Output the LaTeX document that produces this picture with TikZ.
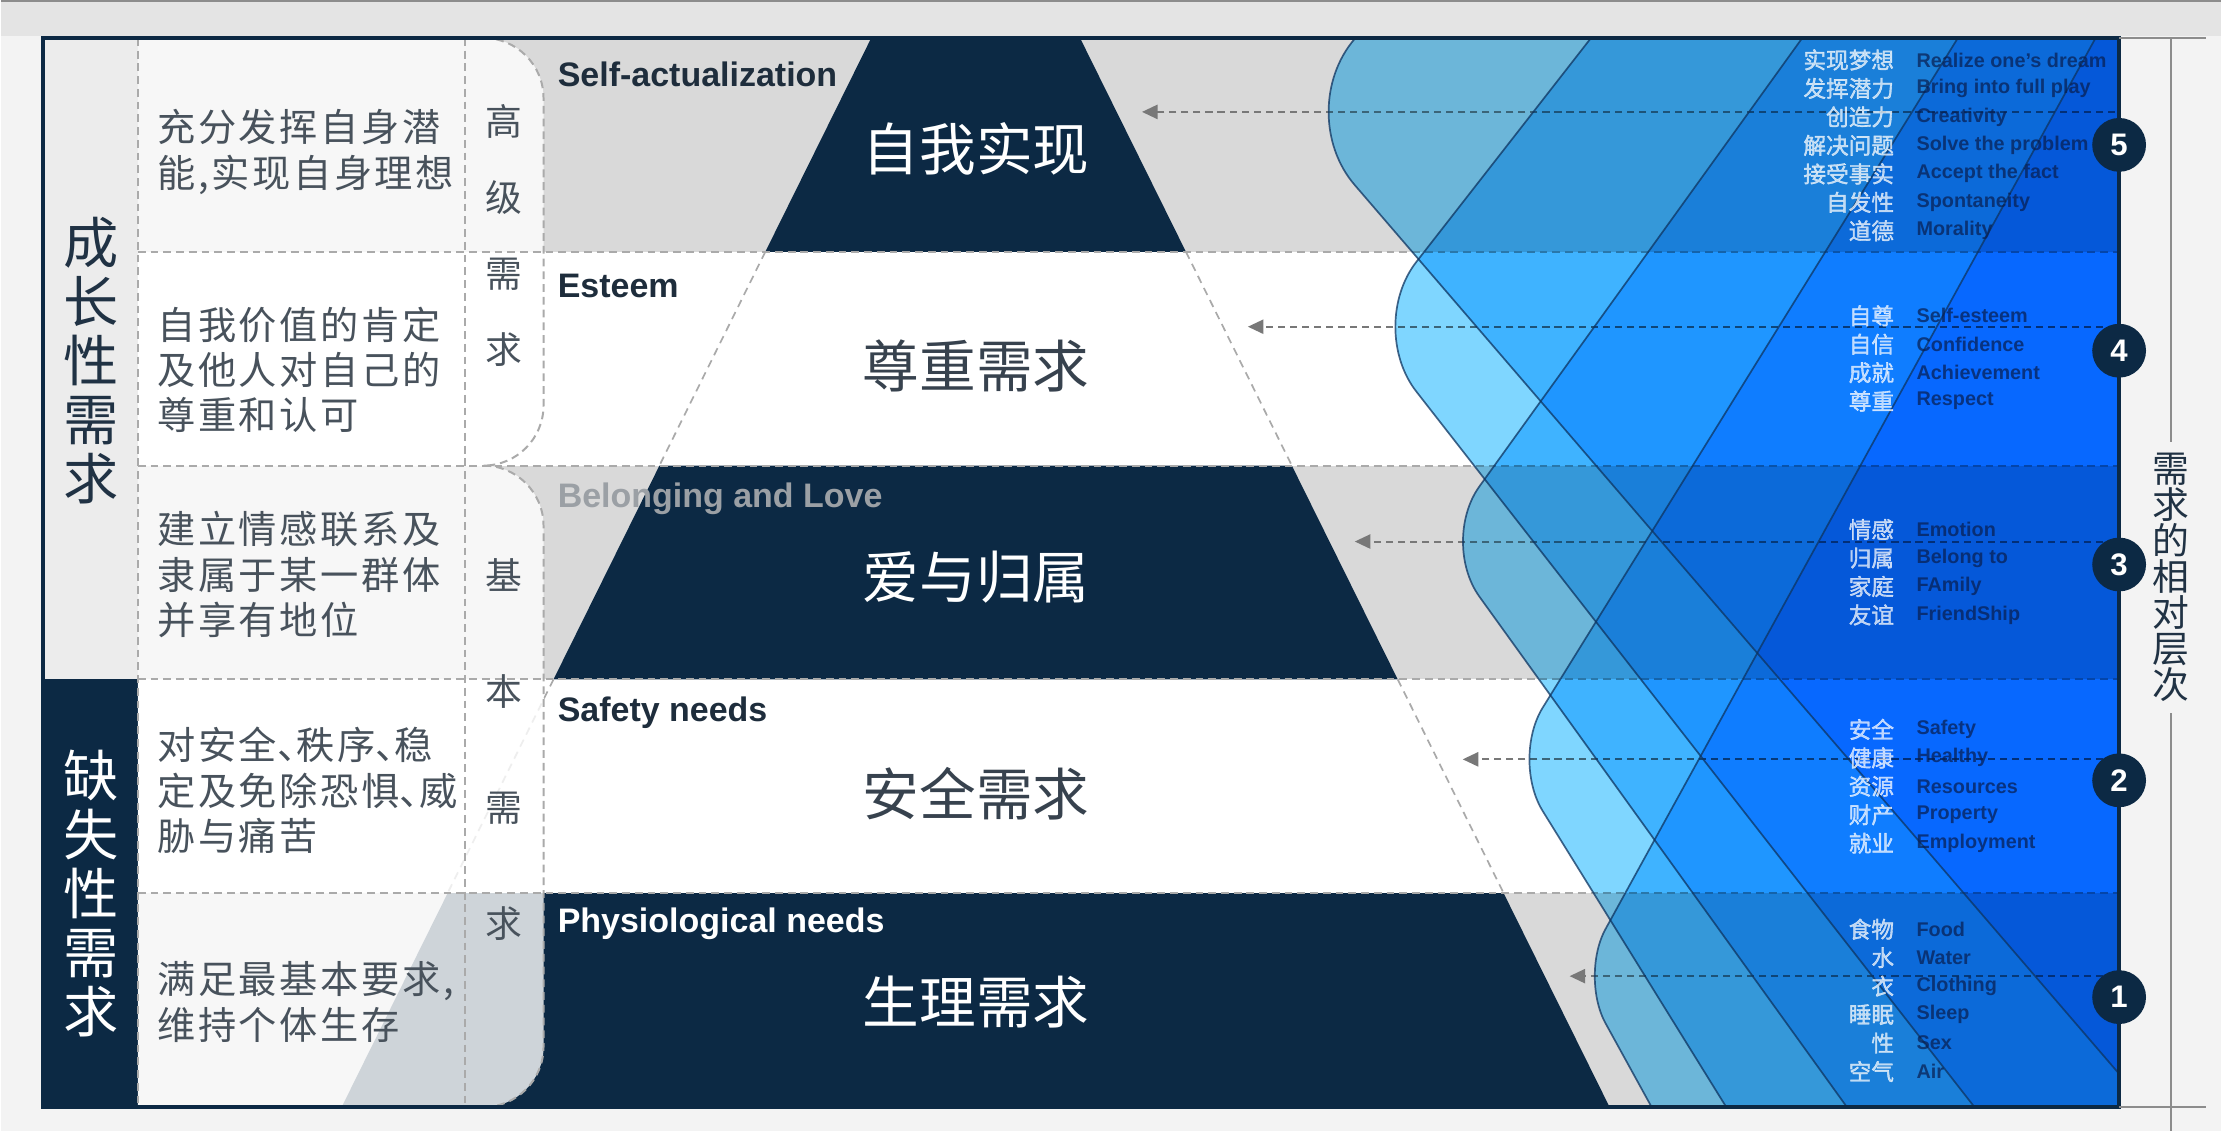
\documentclass[tikz,border=0pt]{standalone}
\usepackage{fontspec}
\setmainfont{Liberation Sans}
\newfontfamily\cjk{Noto Sans CJK SC}
\newfontfamily\cjkls{Noto Sans CJK SC}[LetterSpace=7]
\newfontfamily\cjkfb{Noto Sans CJK SC}[FakeBold=1.5]
\usetikzlibrary{arrows.meta}
\definecolor{navy}{RGB}{12,41,68}
\definecolor{navyen}{RGB}{8,30,80}
\definecolor{rowgray}{RGB}{217,217,217}
\definecolor{bgmargin}{RGB}{243,243,243}
\definecolor{topband}{RGB}{228,228,228}
\definecolor{leftlight}{RGB}{236,236,236}
\definecolor{txtgray}{RGB}{72,82,92}
\definecolor{dashgray}{RGB}{170,170,170}
\definecolor{arrowgray}{RGB}{120,120,120}
\definecolor{chevblue}{RGB}{127,214,255}
\definecolor{chevline}{RGB}{14,52,96}
\definecolor{lblgray}{RGB}{155,160,165}
\definecolor{darklbl}{RGB}{30,45,60}
\definecolor{cnlbl}{RGB}{55,66,78}
\definecolor{extgray}{RGB}{140,140,140}
\definecolor{bigtxt}{RGB}{32,50,68}
\newcommand\hpunct{\makebox[0.5em][l]{、}}
\newcommand\chevfill[4]{\fill[chevblue, rounded corners=#4] ({#1+#3*(#2+150)},-150) -- (#1,#2) -- ({#1+#3*(1350-#2)},1350) -- (2500,1350) -- (2500,-150) -- cycle;}
\newcommand\chevedge[4]{\draw[chevline, line width=1.2pt, draw opacity=0.75, rounded corners=#4] ({#1+#3*(#2+150)},-150) -- (#1,#2) -- ({#1+#3*(1350-#2)},1350);}
\begin{document}
\begin{tikzpicture}[x=0.70567pt, y=-0.70567pt,
  rowdash/.style={draw=dashgray, line width=1.4pt, dash pattern=on 5.5pt off 3.5pt},
  pyrdash/.style={draw=dashgray, line width=1.2pt, dash pattern=on 5.5pt off 4pt},
  arr/.style={draw=arrowgray, line width=1.4pt, dash pattern=on 5pt off 3.5pt, -{Triangle[length=11pt,width=10pt,fill=arrowgray]}},
  desc/.style={anchor=west, inner sep=0pt, align=left, text=txtgray, font=\cjkls\fontsize{27}{32}\selectfont},
  bigv/.style={inner sep=0pt, align=center, font=\cjk\fontsize{39}{41.6}\selectfont},
  plabel/.style={anchor=west, inner sep=0pt, font=\bfseries\fontsize{24}{24}\selectfont},
  clabel/.style={inner sep=0pt, font=\cjk\fontsize{40}{40}\selectfont},
  zhitem/.style={anchor=east, inner sep=0pt, text=white, text opacity=0.72, font=\cjkfb\fontsize{16}{16}\selectfont},
  enitem/.style={anchor=west, inner sep=0pt, text=navyen, text opacity=0.72, font=\bfseries\fontsize{14}{14}\selectfont},
  numc/.style={circle, fill=navy, text=white, minimum size=38pt, inner sep=0pt, font=\bfseries\fontsize{22}{22}\selectfont},
  extline/.style={draw=extgray, line width=1.4pt}
]
% background
\fill[bgmargin] (0,0) rectangle (2222,1132);
\fill[topband] (0,0) rectangle (2222,36);
\draw[extgray, line width=1.4pt] (0,1) -- (2222,1);
% left column
\fill[leftlight] (42,38) rectangle (137,680);
\fill[navy] (42,680) rectangle (137,1108);
% rows
\fill[rowgray] (137,38) rectangle (2120,252);
\fill[white] (137,252) rectangle (2120,466);
\fill[rowgray] (137,466) rectangle (2120,680);
\fill[white] (137,680) rectangle (2120,894);
\fill[rowgray] (137,894) rectangle (2120,1108);
% pyramid
\fill[navy] (871,38) -- (1080,38) -- (1186,252) -- (765,252) -- cycle;
\fill[navy] (659,466) -- (1292,466) -- (1398,680) -- (553,680) -- cycle;
\fill[navy] (447,894) -- (1504,894) -- (1610,1108) -- (341,1108) -- cycle;
\draw[pyrdash] (765,252) -- (659,466);
\draw[pyrdash] (1186,252) -- (1292,466);
\draw[pyrdash] (553,680) -- (447,894);
\draw[pyrdash] (1398,680) -- (1504,894);
% translucent boxes
\fill[white, fill opacity=0.8] (137,38) -- (483,38) .. controls (516,38) and (543,65) .. (543,98) -- (543,406) .. controls (543,439) and (516,466) .. (483,466) -- (137,466) -- cycle;
\fill[white, fill opacity=0.8] (137,466) -- (483,466) .. controls (516,466) and (543,493) .. (543,526) -- (543,1048) .. controls (543,1081) and (516,1108) .. (483,1108) -- (137,1108) -- cycle;
% dashed lines
\foreach \yy in {252,466,680,894} \draw[rowdash] (137,\yy) -- (2120,\yy);
\draw[rowdash] (137,38) -- (137,1108);
\draw[rowdash] (464,38) -- (464,1108);
\draw[rowdash] (483,38) .. controls (516,38) and (543,65) .. (543,98) -- (543,406) .. controls (543,439) and (516,466) .. (483,466);
\draw[rowdash] (483,466) .. controls (516,466) and (543,493) .. (543,526) -- (543,1048) .. controls (543,1081) and (516,1108) .. (483,1108);
% arrows
\coordinate (s5) at (2116,112); \coordinate (t5) at (1142,112);
\coordinate (s4) at (2116,327); \coordinate (t4) at (1248,327);
\coordinate (s3) at (2116,542); \coordinate (t3) at (1355,542);
\coordinate (s2) at (2116,760); \coordinate (t2) at (1463,760);
\coordinate (s1) at (2116,977); \coordinate (t1) at (1570,977);
\foreach \k in {1,...,5} \draw[arr] (s\k) -- (t\k);
% blue chevrons
\begin{scope}
  \clip (137,38) rectangle (2120,1108);
  \begin{scope}[blend mode=multiply]
    \chevfill{1292}{112}{0.86}{68pt}
    \chevfill{1366}{327}{0.78}{58pt}
    \chevfill{1440}{542}{0.72}{48pt}
    \chevfill{1511}{760}{0.62}{43pt}
    \chevfill{1580}{977}{0.55}{38pt}
  \end{scope}
  \chevedge{1292}{112}{0.86}{68pt}
  \chevedge{1366}{327}{0.78}{58pt}
  \chevedge{1440}{542}{0.72}{48pt}
  \chevedge{1511}{760}{0.62}{43pt}
  \chevedge{1580}{977}{0.55}{38pt}
\end{scope}
% frame
\draw[navy, line width=2.8pt] (42,38) rectangle (2120,1108);
\draw[extline] (2120,38) -- (2207,38);
\draw[extline] (2120,1108) -- (2207,1108);
% right vertical label
\node[inner sep=8pt, align=center, text=bigtxt, font=\cjk\fontsize{26}{25.4}\selectfont] (rel) at (2172,578) {需\\求\\的\\相\\对\\层\\次};
\coordinate (rtop) at (2172,38);
\coordinate (rbot) at (2172,1132);
\draw[extline] (rtop) -- (rel.north);
\draw[extline] (rel.south) -- (rbot);
% left big labels
\node[bigv, text=bigtxt] (grow) at (90,361) {成\\长\\性\\需\\求};
\node[bigv, text=white] (lack) at (90,894) {缺\\失\\性\\需\\求};
% descriptions
\node[desc] (d1) at (156,152) {充分发挥自身潜\\能,实现自身理想};
\node[desc] (d2) at (156,370) {自我价值的肯定\\及他人对自己的\\尊重和认可};
\node[desc] (d3) at (156,575) {建立情感联系及\\隶属于某一群体\\并享有地位};
\node[desc] (d4) at (156,791) {对安全\hpunct 秩序\hpunct 稳\\定及免除恐惧\hpunct 威\\胁与痛苦};
\node[desc] (d5) at (156,1003) {满足最基本要求,\\维持个体生存};
% middle vertical columns
\node[inner sep=0pt, align=center, text=txtgray, font=\cjk\fontsize{26}{53.6}\selectfont] (hi) at (503,236) {高\\级\\需\\求};
\node[inner sep=0pt, align=center, text=txtgray, font=\cjk\fontsize{26}{81.9}\selectfont] (basic) at (503,750) {基\\本\\需\\求};
% pyramid english labels
\node[plabel, text=darklbl] (p5) at (557,74) {Self-actualization};
\node[plabel, text=darklbl] (p4) at (557,286) {Esteem};
\node[plabel, text=lblgray] (p3) at (557,499) {Belonging and Love};
\node[plabel, text=darklbl] (p2) at (557,713) {Safety needs};
\node[plabel, text=white] (p1) at (557,925) {Physiological needs};
% pyramid chinese labels
\node[clabel, text=white] (c5) at (976,149) {自我实现};
\node[clabel, text=cnlbl] (c4) at (976,366) {尊重需求};
\node[clabel, text=white] (c3) at (976,578) {爱与归属};
\node[clabel, text=cnlbl] (c2) at (976,794) {安全需求};
\node[clabel, text=white] (c1) at (976,1003) {生理需求};
% list items
\foreach \yy/\zh/\en [count=\i] in {
60/实现梦想/Realize one's dream,
88.5/发挥潜力/Bring into full play,
117/创造力/Creativity,
145.5/解决问题/Solve the problem,
174/接受事实/Accept the fact,
202.5/自发性/Spontaneity,
231/道德/Morality,
316/自尊/Self-esteem,
344.5/自信/Confidence,
373/成就/Achievement,
401.5/尊重/Respect,
530/情感/Emotion,
558.5/归属/Belong to,
587/家庭/FAmily,
615.5/友谊/FriendShip,
730/安全/Safety,
758.5/健康/Healthy,
787/资源/Resources,
815.5/财产/Property,
844/就业/Employment,
930/食物/Food,
958.5/水/Water,
987/衣/Clothing,
1015.5/睡眠/Sleep,
1044/性/Sex,
1072.5/空气/Air}
{
  \node[zhitem] (zh\i) at (1895,\yy) {\zh};
  \node[enitem] (en\i) at (1917,\yy) {\en};
}
% number circles
\node[numc] (n5) at (2120,145) {5};
\node[numc] (n4) at (2120,351) {4};
\node[numc] (n3) at (2120,565) {3};
\node[numc] (n2) at (2120,781) {2};
\node[numc] (n1) at (2120,998) {1};
\end{tikzpicture}
\end{document}
